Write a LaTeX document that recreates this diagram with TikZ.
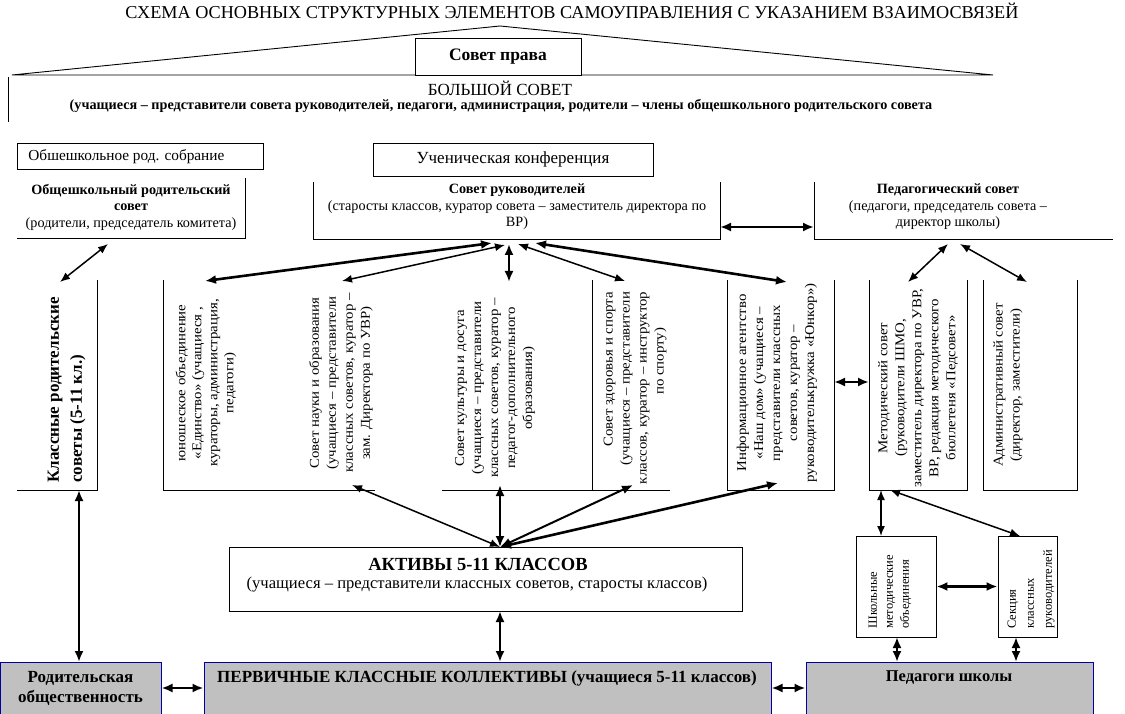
\documentclass[tikz,border=0pt]{standalone}
\usepackage{fontspec}
\setmainfont{Liberation Serif}
\newfontfamily\colfont{Liberation Serif}[FakeStretch=1.1]
\usetikzlibrary{arrows.meta}
\definecolor{boxblue}{RGB}{0,0,160}
\definecolor{boxgray}{RGB}{192,192,192}
\newcommand\myfs[2]{\fontsize{#1pt}{#2pt}\selectfont}
\begin{document}
\begin{tikzpicture}[x=1pt,y=-1pt,line width=0.9pt,
  tA/.style={{Latex[length=11pt,width=9pt]}-{Latex[length=11pt,width=9pt]},line width=2.6pt},
  tB/.style={{Latex[length=10pt,width=8pt]}-{Latex[length=10pt,width=8pt]},line width=1.5pt},
  plain/.style={inner sep=0pt,align=center},
  coltxt/.style={inner sep=0pt,rotate=90,align=center,font=\colfont\myfs{13.5}{17}},
  gbox/.style={draw=boxblue,fill=boxgray,line width=1pt,inner sep=0pt},
  wbox/.style={draw,line width=0.9pt,inner sep=0pt}]
\useasboundingbox (0,0) rectangle (1125,714);

% title
\node[plain,font=\myfs{18.2}{20}] (title) at (572,11) {СХЕМА ОСНОВНЫХ СТРУКТУРНЫХ ЭЛЕМЕНТОВ САМОУПРАВЛЕНИЯ С УКАЗАНИЕМ ВЗАИМОСВЯЗЕЙ};

% roof
\coordinate (roofL) at (12,75);
\coordinate (roofT) at (500,26);
\coordinate (roofR) at (993,75);
\draw (roofL) -- (roofT) -- (roofR) -- cycle;
\draw (8,77) -- (8,122);
\node[wbox,fill=white,minimum width=166pt,minimum height=37pt,font=\bfseries\myfs{17.5}{20}] (sovprava) at (498,56.5) {Совет права};
\node[plain,font=\myfs{17}{18}] (bsov) at (500,88) {БОЛЬШОЙ СОВЕТ};
\node[plain,font=\bfseries\myfs{14.2}{15}] (bsovsub) at (501,106) {(учащиеся – представители совета руководителей, педагоги, администрация, родители – члены общешкольного родительского совета};

% row 2
\node[wbox,minimum width=246pt,minimum height=26pt] (sobr) at (140,156) {};
\node[plain,anchor=west,font=\myfs{15.3}{16}] (sobrt) at (28,157) {Обшешкольное род. собрание};
\node[wbox,minimum width=280pt,minimum height=33pt,font=\myfs{17}{18}] (konf) at (513,159.5) {Ученическая конференция};

\draw (245,178) -- (245,238) -- (17,238);
\node[plain,font=\myfs{14.2}{16.5}] (ors) at (131,207) {\textbf{Общешкольный родительский}\\\textbf{совет}\\(родители, председатель комитета)};

\draw (313,182) -- (313,239) -- (720,239) -- (720,182);
\node[plain,font=\myfs{14.2}{16.5}] (sr) at (517,207) {\textbf{Совет руководителей}\\(старосты классов, куратор совета – заместитель директора по\\ВР)};

\draw (814,182) -- (814,239) -- (1113,239);
\node[plain,font=\myfs{14.2}{16.5}] (ps) at (948,207) {\textbf{Педагогический совет}\\(педагоги, председатель совета –\\директор школы)};

\draw[tA] (720,227) -- (814,227);

% row 3 columns
\draw (97,280) -- (97,490) -- (17,490);
\node[inner sep=0pt,rotate=90,align=left,anchor=west,font=\bfseries\myfs{17}{23}] (krs) at (66.5,483) {Классные родительские\\советы (5-11 кл.)};

\draw (163,280) -- (163,490) -- (375,490);
\draw (442,490) -- (670,490);
\draw (592,280) -- (592,490);
\draw (727,280) -- (727,490) -- (834,490) -- (834,280);
\draw (869,280) -- (869,490) -- (967,490) -- (967,280);
\draw (983,280) -- (983,490) -- (1077,490) -- (1077,280);

\node[coltxt,font=\colfont\myfs{13.5}{16}] (yun) at (206,383) {юношеское объединение\\«Единство» (учащиеся ,\\кураторы, администрация,\\педагоги)};
\node[coltxt] (nauk) at (341,383) {Совет науки и образования\\(учащиеся – представители\\классных советов, куратор –\\зам. Директора по УВР)};
\node[coltxt] (kult) at (495,388) {Совет культуры и досуга\\(учащиеся – представители\\классных советов, куратор –\\педагог-дополнительного\\образования)};
\node[coltxt,align=right] (zdor) at (635,388) {Совет здоровья и спорта\\(учащиеся – представители\\классов, куратор – инструктор\\по спорту)\hspace*{36pt}};
\node[coltxt] (info) at (777,383) {Информационное агентство\\«Наш дом» (учащиеся –\\представители классных\\советов, куратор –\\руководителькружка «Юнкор»)};
\node[coltxt] (metod) at (918,388) {Методический совет\\(руководители ШМО,\\заместитель директора по УВР,\\ВР, редакция методического\\бюллетеня «Педсовет»};
\node[coltxt] (adm) at (1008,385) {Административный совет\\(директор, заместители)};

% arrows from top councils
\draw[tB] (108,244) -- (60,282);
\draw[tA] (492,243) -- (205,281);
\draw[tB] (505,245) -- (342,281);
\draw[tA] (509,244) -- (509,282);
\draw[tB] (518,244) -- (625,281);
\draw[tA] (535,243) -- (787,282);
\draw[tB] (948,244) -- (908,282);
\draw[tB] (960,244) -- (1027,282);
\draw[tA] (834,382) -- (869,382);

% Aktivy
\node[wbox,minimum width=513pt,minimum height=64pt] (aktiv) at (485.5,579) {};
\node[plain,font=\bfseries\myfs{18.5}{20}] (aktivt) at (478,564) {АКТИВЫ 5-11 КЛАССОВ};
\node[plain,font=\myfs{16.6}{18}] (aktivs) at (477,585) {(учащиеся – представители классных советов, старосты классов)};
\coordinate (ak) at (500,547);
\draw[tB] (ak) -- (352,485);
\draw[tA,line width=2pt] (ak) -- (500,485);
\draw[tA,line width=2pt] (ak) -- (633,485);
\draw[tA] (ak) -- (778,483);

% right lower boxes
\node[wbox,minimum width=80pt,minimum height=101pt] (shk) at (896,586.5) {};
\node[inner sep=0pt,rotate=90,align=left,anchor=west,font=\myfs{12.5}{16}] (shkt) at (890,629) {Школьные\\методические\\объединения};
\node[wbox,minimum width=59pt,minimum height=101pt] (sek) at (1027.5,586.5) {};
\node[inner sep=0pt,rotate=90,align=left,anchor=west,font=\myfs{12.5}{18}] (sekt) at (1031,629) {Секция\\классных\\руководителей};
\draw[tB] (881,490) -- (881,536);
\draw[tB] (890,490) -- (1020,536);
\draw[tA] (shk.east) -- (sek.west);

% bottom boxes
\node[gbox,minimum width=161pt,minimum height=52pt] (rod) at (80.5,688) {};
\node[plain,font=\bfseries\myfs{17}{20}] (rodt) at (80.5,688) {Родительская\\общественность};
\node[gbox,minimum width=567pt,minimum height=52pt] (perv) at (487.5,688) {};
\node[plain,font=\bfseries\myfs{17}{18}] (pervt) at (487,678) {ПЕРВИЧНЫЕ КЛАССНЫЕ КОЛЛЕКТИВЫ (учащиеся 5-11 классов)};
\node[gbox,minimum width=287pt,minimum height=52pt] (ped) at (949.5,688) {};
\node[plain,font=\bfseries\myfs{16.5}{18}] (pedt) at (949,678) {Педагоги школы};

\draw[tA] (79,490) -- (79,662);
\draw[tA] (500,611) -- (500,662);
\draw[tA] (rod.east) -- (perv.west);
\draw[tA] (perv.east) -- (ped.west);
\draw[tA] (897,637) -- (897,662);
\draw[tA] (1016,637) -- (1016,662);
\end{tikzpicture}
\end{document}
